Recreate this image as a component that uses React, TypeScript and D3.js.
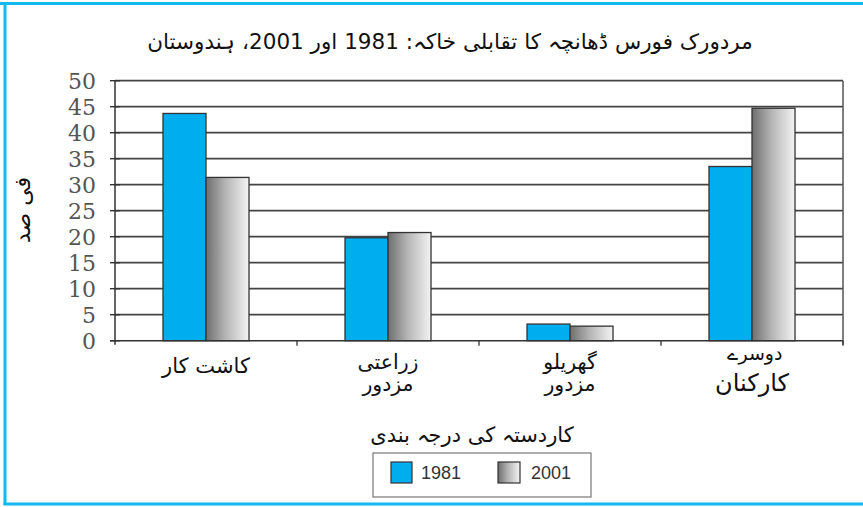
import React from "react";
import * as d3 from "d3";

const title = "مردورک فورس ڈھانچہ کا تقابلی خاکہ: 1981 اور 2001، ہندوستان";
const yTitle = "فی صد";
const xTitle = "کاردستہ کی درجہ بندی";
const categories = ["c1", "c2", "c3", "c4"];
const categoryLabels: string[][] = [
  ["کاشت کار"],
  ["زراعتی", "مزدور"],
  ["گھریلو", "مزدور"],
  ["دوسرے", "کارکنان"],
];
const seriesNames = ["1981", "2001"];
const values1981 = [43.7, 19.8, 3.2, 33.5];
const values2001 = [31.4, 20.8, 2.8, 44.7];
const yTicks = [0, 5, 10, 15, 20, 25, 30, 35, 40, 45, 50];

const W = 863;
const H = 507;
const M = { left: 115, right: 20, top: 80.7, bottom: 166.3 };
const URDU = "'DejaVu Sans', 'Noto Sans', sans-serif";
const BLUE = "#00aeef";
const FRAME = "#12b9ef";

export default function App() {
  const x = d3.scaleBand<string>().domain(categories).range([M.left, W - M.right]).padding(0);
  const xs = d3.scaleBand<string>().domain(seriesNames).range([0, x.bandwidth()]).paddingInner(0).paddingOuter(1.116);
  const y = d3.scaleLinear().domain([0, 50]).range([H - M.bottom, M.top]);
  const y0 = y(0);
  const series = [values1981, values2001];
  const x0 = M.left;
  const x1 = W - M.right;

  return (
    <svg width={W} height={H} style={{ position: "absolute", left: 0, top: 0, background: "#fff" }}>
      <defs>
        <linearGradient id="grayGrad" x1="0" x2="1" y1="0" y2="0">
          <stop offset="0" stopColor="#6e6e6e" />
          <stop offset="0.45" stopColor="#b4b4b4" />
          <stop offset="1" stopColor="#f4f4f4" />
        </linearGradient>
      </defs>
      {/* frame */}
      <line x1={0} x2={W} y1={3.5} y2={3.5} stroke={FRAME} strokeWidth={3} />
      <line x1={5} x2={5} y1={2} y2={505} stroke={FRAME} strokeWidth={3} />
      <line x1={3.5} x2={W} y1={504} y2={504} stroke={FRAME} strokeWidth={3} />

      {/* title */}
      <text x={450} y={49} textAnchor="middle" fontFamily={URDU} fontSize={21.5} fill="#111" direction="rtl">
        {title}
      </text>

      {/* gridlines */}
      {yTicks.map((t) => (
        <g key={t}>
          {t > 0 && (
            <line x1={x0} x2={x1} y1={y(t)} y2={y(t)} stroke="#444" strokeWidth={1.7} />
          )}
          <line x1={x0 - 5} x2={x0 + 5} y1={y(t)} y2={y(t)} stroke="#333" strokeWidth={1.4} />
          <text x={96} y={y(t)} dy="0.36em" textAnchor="end" fontFamily="'DejaVu Serif', serif" fontSize={22} fill="#555">
            {t}
          </text>
        </g>
      ))}

      {/* bars */}
      {categories.map((c, i) => (
        <g key={c} transform={`translate(${x(c)},0)`}>
          {seriesNames.map((s, j) => (
            <rect
              key={s}
              x={xs(s)}
              y={y(series[j][i])}
              width={xs.bandwidth()}
              height={y0 - y(series[j][i])}
              fill={j === 0 ? BLUE : "url(#grayGrad)"}
              stroke="#333"
              strokeWidth={1.3}
            />
          ))}
        </g>
      ))}

      {/* axes */}
      <line x1={x0} x2={x0} y1={M.top} y2={y0 + 4} stroke="#333" strokeWidth={1.5} />
      <line x1={x1} x2={x1} y1={M.top} y2={y0 + 4} stroke="#555" strokeWidth={1.5} />
      <line x1={x0 - 5} x2={x1} y1={y0} y2={y0} stroke="#333" strokeWidth={1.6} />
      {categories.map((c) => (
        <line key={c} x1={(x(c) as number) + x.bandwidth()} x2={(x(c) as number) + x.bandwidth()} y1={y0} y2={y0 + 5} stroke="#333" strokeWidth={1.3} />
      ))}

      {/* category labels */}
      {categories.map((c, i) => {
        const cx = (x(c) as number) + x.bandwidth() / 2;
        const lines = categoryLabels[i];
        if (i === 3) {
          return (
            <g key={c}>
              <text x={cx + 3} y={360} textAnchor="middle" fontFamily={URDU} fontSize={19} fill="#111" direction="rtl">{lines[0]}</text>
              <text x={cx} y={391} textAnchor="middle" fontFamily={URDU} fontSize={24} fill="#111" direction="rtl">{lines[1]}</text>
            </g>
          );
        }
        return (
          <g key={c}>
            {lines.map((l, k) => (
              <text key={k} x={cx} y={(lines.length === 1 ? 373 : 369) + k * 22} textAnchor="middle" fontFamily={URDU} fontSize={lines.length === 1 ? 21 : 20.5} fill="#111" direction="rtl">
                {l}
              </text>
            ))}
          </g>
        );
      })}

      {/* axis titles */}
      <text x={472} y={442} textAnchor="middle" fontFamily={URDU} fontSize={21} fill="#111" direction="rtl">
        {xTitle}
      </text>
      <text transform="translate(30,210) rotate(-90)" textAnchor="middle" fontFamily={URDU} fontSize={22} fill="#111" direction="rtl">
        {yTitle}
      </text>

      {/* legend */}
      <rect x={373} y={453} width={218} height={44} fill="#fff" stroke="#777" strokeWidth={1.2} />
      <rect x={391} y={462} width={21} height={21} fill={BLUE} stroke="#333" strokeWidth={1.2} />
      <text x={421} y={473} dy="0.36em" fontFamily="'Liberation Sans', Arial, sans-serif" fontSize={18} fill="#333">{seriesNames[0]}</text>
      <rect x={498} y={462} width={22} height={21} fill="url(#grayGrad)" stroke="#333" strokeWidth={1.2} />
      <text x={531} y={473} dy="0.36em" fontFamily="'Liberation Sans', Arial, sans-serif" fontSize={18} fill="#333">{seriesNames[1]}</text>
    </svg>
  );
}
